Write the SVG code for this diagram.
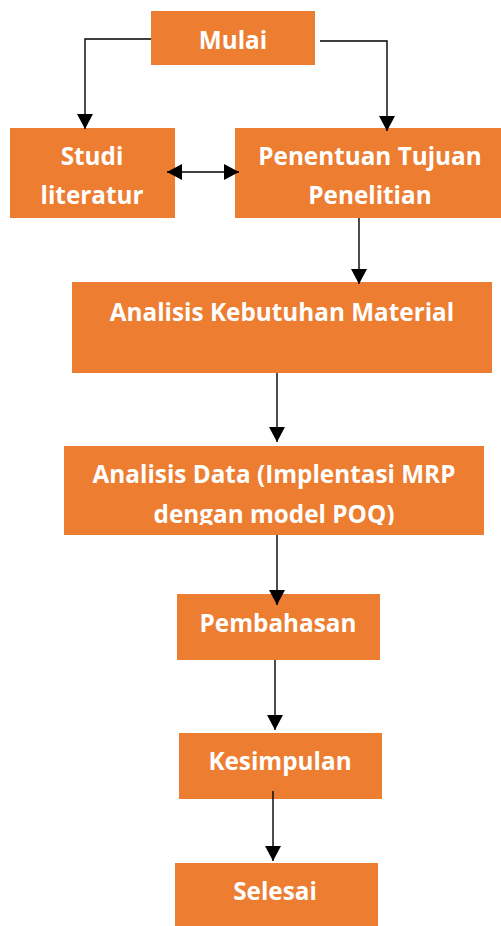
<svg xmlns="http://www.w3.org/2000/svg" width="501" height="926" viewBox="0 0 501 926">
<style>
.box{fill:#ED7D31}
.t{font-family:"Open Sans","Noto Sans",sans-serif;font-weight:bold;font-size:24.3px;fill:#fff;text-anchor:middle}
.c{fill:none;stroke:#000;stroke-width:1.4}
</style>
<defs>
<marker id="ah" markerUnits="userSpaceOnUse" markerWidth="16" markerHeight="16" refX="15" refY="8" orient="auto-start-reverse">
<path d="M0,0 L15,8 L0,16 z" fill="#000"/>
</marker>
<clipPath id="clipAD"><rect x="64" y="446" width="420" height="79"/></clipPath>
</defs>
<rect width="501" height="926" fill="#fff"/>
<g id="mulai"><rect class="box" x="151" y="11" width="164" height="54"/><text class="t" x="233" y="49">Mulai</text></g>
<g id="studi"><rect class="box" x="10" y="128" width="165" height="90"/><text class="t" x="92" y="165">Studi</text><text class="t" x="92" y="204">literatur</text></g>
<g id="penentuan"><rect class="box" x="235" y="128" width="266" height="90"/><text class="t" x="370" y="165">Penentuan Tujuan</text><text class="t" x="370" y="204">Penelitian</text></g>
<g id="kebutuhan"><rect class="box" x="72" y="282" width="420" height="91"/><text class="t" x="282" y="321">Analisis Kebutuhan Material</text></g>
<g id="analisisdata"><rect class="box" x="64" y="446" width="420" height="89"/><g clip-path="url(#clipAD)"><text class="t" x="274" y="483">Analisis Data (Implentasi MRP</text><text class="t" x="274" y="523">dengan model POQ)</text></g></g>
<g id="pembahasan"><rect class="box" x="177" y="594" width="203" height="66"/><text class="t" x="278" y="632">Pembahasan</text></g>
<g id="kesimpulan"><rect class="box" x="179" y="733" width="203" height="66"/><text class="t" x="280" y="770">Kesimpulan</text></g>
<g id="selesai"><rect class="box" x="175" y="863" width="203" height="70"/><text class="t" x="275" y="900">Selesai</text></g>
<g id="connectors">
<polyline class="c" points="151,39 85,39 85,129" marker-end="url(#ah)"/>
<polyline class="c" points="320,41 387,41 387,131" marker-end="url(#ah)"/>
<line class="c" x1="167" y1="172" x2="239" y2="172" marker-start="url(#ah)" marker-end="url(#ah)"/>
<line class="c" x1="359" y1="218" x2="359" y2="284" marker-end="url(#ah)"/>
<line class="c" x1="277" y1="373" x2="277" y2="442" marker-end="url(#ah)"/>
<line class="c" x1="277" y1="535" x2="277" y2="605" marker-end="url(#ah)"/>
<line class="c" x1="275" y1="660" x2="275" y2="730" marker-end="url(#ah)"/>
<line class="c" x1="273" y1="791" x2="273" y2="861" marker-end="url(#ah)"/>
</g>
</svg>
